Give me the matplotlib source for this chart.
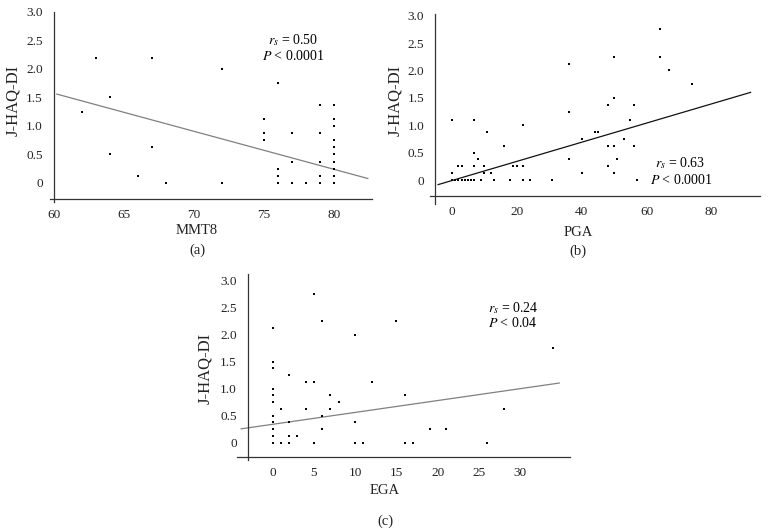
import matplotlib
matplotlib.use("Agg")
import matplotlib.pyplot as plt
import numpy as np

plt.rcParams['font.family'] = ['Liberation Serif', 'DejaVu Serif']
plt.rcParams['mathtext.fontset'] = 'stix'

# (a) MMT8 vs J-HAQ-DI
mmt8 = [62, 63, 64, 64, 66, 67, 67, 68, 72, 72,
        75, 75, 75, 76, 76, 76, 76, 77, 77, 77, 78,
        79, 79, 79, 79, 79,
        80, 80, 80, 80, 80, 80, 80, 80, 80, 80]
haq_a = [1.25, 2.2, 1.5, 0.5, 0.125, 2.2, 0.625, 0, 2.0, 0,
         1.125, 0.875, 0.75, 1.75, 0.25, 0.125, 0, 0.875, 0.375, 0, 0,
         1.375, 0.875, 0.375, 0.125, 0,
         1.375, 1.125, 1.0, 0.75, 0.625, 0.5, 0.375, 0.25, 0.125, 0]

# (b) PGA vs J-HAQ-DI
pga = [0, 1, 2, 3, 4, 5, 6, 7, 9, 0, 0, 2, 3, 7, 7, 7, 8,
       10, 10, 11, 12, 13, 16, 18, 19, 20, 22, 22, 22, 24, 31,
       36, 36, 36, 40, 40, 44, 45, 48, 48, 48,
       50, 50, 50, 50, 51, 53, 55, 56, 56, 57, 64, 64, 67, 74]
haq_b = [0, 0, 0, 0, 0, 0, 0, 0, 0, 1.1, 0.125, 0.25, 0.25, 1.1, 0.5, 0.25, 0.375,
         0.25, 0.125, 0.875, 0.125, 0, 0.625, 0, 0.25, 0.25, 0.25, 1.0, 0, 0, 0,
         2.125, 1.25, 0.375, 0.75, 0.125, 0.875, 0.875, 1.375, 0.625, 0.25,
         2.25, 1.5, 0.625, 0.125, 0.375, 0.75, 1.1, 1.375, 0.625, 0, 2.75, 2.25, 2.0, 1.75]

# (c) EGA vs J-HAQ-DI
ega = [0, 0, 0, 0, 0, 0, 0, 0, 0, 0, 0,
       1, 1, 2, 2, 2, 2, 3, 4, 4, 5, 5, 5, 6, 6, 6, 7, 7, 8,
       10, 10, 10, 11, 12, 15, 16, 16, 17, 19, 21, 26, 28, 34]
haq_c = [2.125, 1.5, 1.375, 1.0, 0.875, 0.75, 0.5, 0.375, 0.25, 0.125, 0,
         0.625, 0, 1.25, 0.375, 0.125, 0, 0.125, 1.125, 0.625, 2.75, 1.125, 0,
         2.25, 0.5, 0.25, 0.875, 0.625, 0.75,
         2.0, 0.375, 0, 0, 1.125, 2.25, 0.875, 0, 0, 0.25, 0.25, 0, 0.625, 1.75]

# trend lines: intercept, slope, x from, x to
fit_a = [5.575, -0.0667, 60.2, 82.4]
fit_b = [-0.01, 0.0175, -4.2, 92.0]
fit_c = [0.34, 0.022, -3.8, 34.7]

W, H = 768, 530
fig = plt.figure(figsize=(W / 100, H / 100), dpi=100)


def px_axes(left, right, top, bottom):
    return fig.add_axes([left / W, 1 - bottom / H, (right - left) / W, (bottom - top) / H])


def panel(ax, x, y, fit, xlim, ylim, xspine, yspine, xticks, lcol):
    ax.scatter(x, y, s=3.5, marker='s', color='black', linewidths=0, zorder=3)
    xs = np.array([fit[2], fit[3]])
    ax.plot(xs, fit[0] + fit[1] * xs, color=lcol, lw=0.9)
    ax.set_xlim(xlim)
    ax.set_ylim(ylim)
    for s in ['top', 'right']:
        ax.spines[s].set_visible(False)
    ax.spines['left'].set_position(('data', xspine))
    ax.spines['bottom'].set_position(('data', yspine))
    for s in ['left', 'bottom']:
        ax.spines[s].set_color('#333333')
        ax.spines[s].set_linewidth(0.9)
    ax.set_xticks(xticks)
    ax.set_xticklabels([str(t) for t in xticks])
    yt = [0, 0.5, 1.0, 1.5, 2.0, 2.5, 3.0]
    ax.set_yticks(yt)
    ax.set_yticklabels(['0', '0.5', '1.0', '1.5', '2.0', '2.5', '3.0'])
    ax.tick_params(length=0, labelsize=9.5, colors='#222222')
    ax.tick_params(axis='y', pad=8)
    ax.tick_params(axis='x', pad=7)
    ax.patch.set_alpha(0)


# (a)
ax1 = px_axes(49.8, 372, 12, 201.8)
panel(ax1, mmt8, haq_a, fit_a, (59.7, 82.7), (-0.33, 3.0), 60, -0.28,
      [60, 65, 70, 75, 80], '#808080')
ax1.text(77.1, 2.5, r'$r_s$ = 0.50', ha='center', va='center', fontsize=10)
ax1.text(77.1, 2.23, r'$P$ < 0.0001', ha='center', va='center', fontsize=10)

# (b)
ax2 = px_axes(430, 760, 14, 203.6)
panel(ax2, pga, haq_b, fit_b, (-6.7, 94.9), (-0.43, 3.03), -5.1, -0.29,
      [0, 20, 40, 60, 80], '#111111')
ax2.text(70.4, 0.31, r'$r_s$ = 0.63', ha='center', va='center', fontsize=10)
ax2.text(70.6, 0.0, r'$P$ < 0.0001', ha='center', va='center', fontsize=10)

# (c)
ax3 = px_axes(237, 570, 274, 460)
panel(ax3, ega, haq_c, fit_c, (-4.3, 36), (-0.32, 3.12), -3.0, -0.27,
      [0, 5, 10, 15, 20, 25, 30], '#808080')
ax3.text(29.1, 2.49, r'$r_s$ = 0.24', ha='center', va='center', fontsize=10)
ax3.text(29.1, 2.21, r'$P$ < 0.04', ha='center', va='center', fontsize=10)


def ftext(x, y, s, size=10.5, **kw):
    fig.text(x / W, 1 - y / H, s, ha='center', va='center', fontsize=size, color='#222222', **kw)


ftext(13, 100, 'J-HAQ-DI', size=12, rotation=90)
ftext(197, 231, 'MMT8')
ftext(197, 250, '(a)')
ftext(395, 100, 'J-HAQ-DI', size=12, rotation=90)
ftext(578, 232, 'PGA')
ftext(578, 251, '(b)')
ftext(205, 368, 'J-HAQ-DI', size=12, rotation=90)
ftext(385, 491, 'EGA')
ftext(385, 521, '(c)')

fig.savefig('out.png', dpi=100)
